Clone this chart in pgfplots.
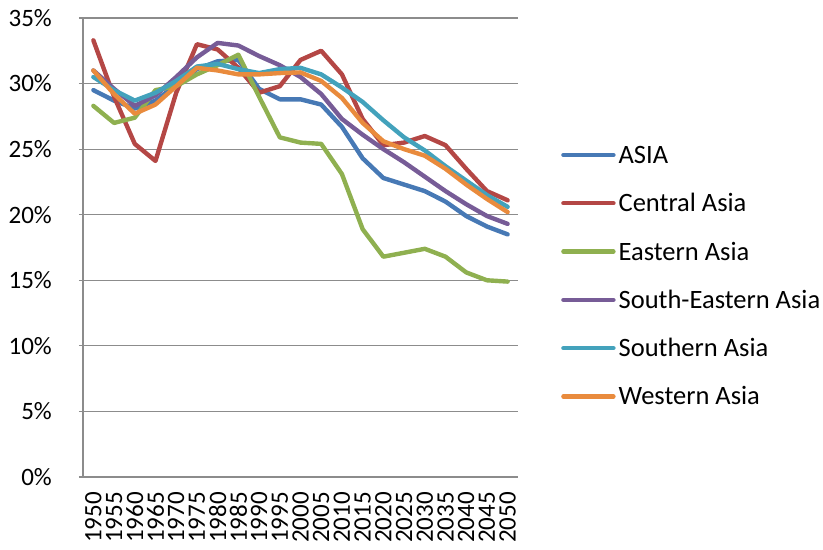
\documentclass[border=0pt]{standalone}
\usepackage{fontspec}
\setmainfont{Carlito}
\usepackage{pgfplots}
\usepackage{pgfplotstable}
\pgfplotsset{compat=1.18}
\definecolor{cAsia}{HTML}{4779B5}
\definecolor{cCentral}{HTML}{B44745}
\definecolor{cEastern}{HTML}{8FB050}
\definecolor{cSE}{HTML}{775C97}
\definecolor{cSouthern}{HTML}{43A2BC}
\definecolor{cWestern}{HTML}{E98B3D}
\definecolor{gridgray}{HTML}{8C8C8C}
\pgfplotstableread{
year asia central eastern se southern western
1950 29.5 33.3 28.3 31.0 30.5 31.0
1955 28.7 29.0 27.0 29.6 29.5 29.2
1960 28.1 25.4 27.4 28.3 28.7 27.7
1965 28.7 24.1 29.5 29.1 29.3 28.4
1970 29.9 29.3 29.8 30.5 30.2 29.8
1975 31.1 33.0 30.7 32.0 31.3 31.2
1980 31.7 32.6 31.4 33.1 31.5 31.0
1985 31.8 31.2 32.2 32.9 31.1 30.7
1990 29.6 29.3 29.0 32.1 30.8 30.7
1995 28.8 29.8 25.9 31.4 31.1 30.8
2000 28.8 31.8 25.5 30.5 31.2 30.85
2005 28.4 32.5 25.4 29.2 30.7 30.2
2010 26.7 30.7 23.1 27.3 29.7 28.9
2015 24.3 27.3 18.9 26.1 28.6 27.0
2020 22.8 25.3 16.8 25.0 27.2 25.6
2025 22.3 25.5 17.1 24.0 25.9 25.0
2030 21.8 26.0 17.4 22.9 24.9 24.5
2035 21.0 25.3 16.8 21.8 23.7 23.5
2040 19.9 23.5 15.6 20.8 22.6 22.3
2045 19.1 21.8 15.0 19.9 21.5 21.2
2050 18.5 21.1 14.9 19.3 20.6 20.2
}\datatable
\begin{document}
\fontsize{25bp}{30bp}\selectfont
\begin{tikzpicture}
\useasboundingbox (-83bp,-73bp) rectangle (740bp,477bp);
\begin{axis}[
  at={(0,0)}, anchor=south west,
  scale only axis, width=435bp, height=459bp,
  xmin=1947.5, xmax=2052.5, ymin=0, ymax=35,
  axis x line*=bottom, axis y line*=left,
  axis line style={-, draw=gridgray, line width=1.2bp},
  ymajorgrids, major grid style={draw=gridgray, line width=1.2bp},
  xtick={1950,1955,...,2050},
  xticklabels={1950,1955,1960,1965,1970,1975,1980,1985,1990,1995,2000,2005,2010,2015,2020,2025,2030,2035,2040,2045,2050},
  ytick={0,5,...,35},
  yticklabels={0\%,5\%,10\%,15\%,20\%,25\%,30\%,35\%},
  x tick style={draw=none},
  y tick style={draw=gridgray, line width=1.2bp},
  tick align=outside, major tick length=4bp,
  yticklabel style={inner sep=0pt},
  yticklabel shift=27bp,
  xticklabel style={rotate=90, anchor=east, inner sep=0pt},
  xticklabel shift=11bp,
  every axis plot/.append style={line width=4.4bp, line join=round, line cap=round},
  legend cell align=left,
  legend style={at={(1.0989,0.7205)}, anchor=north west, draw=none, fill=none,
    inner sep=0pt, row sep=31.3bp, column sep=3bp,
    font=\fontsize{26.5bp}{30bp}\selectfont,
    nodes={inner sep=0pt, text height=17bp, text depth=0pt}},
  legend image code/.code={\draw[#1, line width=4.4bp, line cap=round] (0bp,0bp) -- (50bp,0bp);},
]
\addplot[cAsia] table[x=year,y=asia]{\datatable};
\addlegendentry{ASIA}
\addplot[cCentral] table[x=year,y=central]{\datatable};
\addlegendentry{Central Asia}
\addplot[cEastern] table[x=year,y=eastern]{\datatable};
\addlegendentry{Eastern Asia}
\addplot[cSE] table[x=year,y=se]{\datatable};
\addlegendentry{South-Eastern Asia}
\addplot[cSouthern] table[x=year,y=southern]{\datatable};
\addlegendentry{Southern Asia}
\addplot[cWestern] table[x=year,y=western]{\datatable};
\addlegendentry{Western Asia}
\end{axis}
\end{tikzpicture}
\end{document}
